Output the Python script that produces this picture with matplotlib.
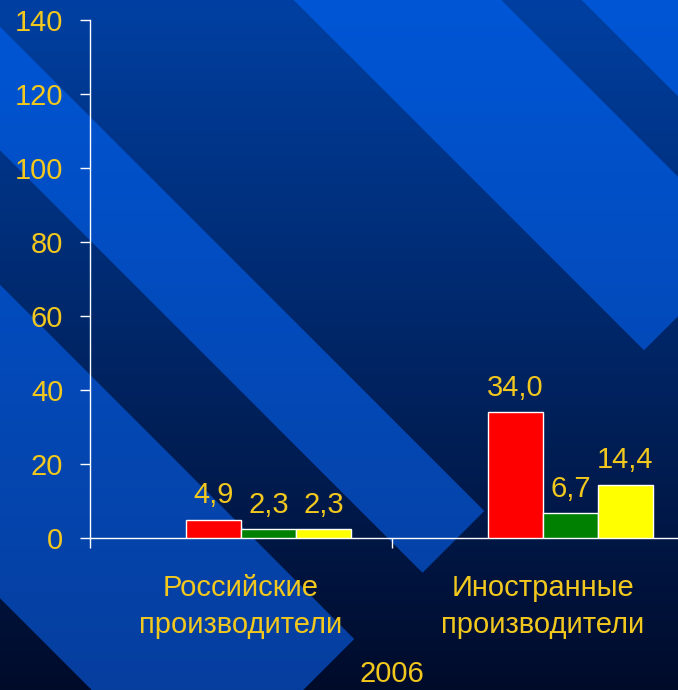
import numpy as np
import matplotlib
matplotlib.use("Agg")
import matplotlib.pyplot as plt
from matplotlib.ticker import FixedLocator, FixedFormatter, NullFormatter

plt.rcParams['font.family'] = ['Liberation Sans', 'DejaVu Sans']

# ---------------- data ----------------
categories = ['Российские\nпроизводители', 'Иностранные\nпроизводители']
series_red = [4.9, 34.0]
series_green = [2.3, 6.7]
series_yellow = [2.3, 14.4]
y_ticks = [0, 20, 40, 60, 80, 100, 120, 140]
x_title = '2006'

# ---------------- style ----------------
W, H = 678, 690
GOLD = '#F2C81E'
colors = ['#FF0000', '#008000', '#FFFF00']
FS = 21

fig = plt.figure(figsize=(W / 100, H / 100), dpi=100)

# ---------------- background (gradient with diagonal stripes) ----------------
ss = 2
yy, xx = np.mgrid[0:H * ss, 0:W * ss].astype(float)
yy = (yy + 0.5) / ss
xx = (xx + 0.5) / ss
s1 = (xx >= 294 + yy) & (xx <= 501 + yy) & (xx + yy <= 994)
s2 = xx >= 582 + yy
s3 = (xx >= yy - 150) & (xx <= yy - 27) & (xx + yy <= 995)
s4 = (xx >= yy - 598) & (xx <= yy - 285) & (xx + yy <= 993)
m = (s1 | s2 | s3 | s4).astype(float)
m = m.reshape(H, ss, W, ss).mean(axis=(1, 3))[..., None]
t = (np.arange(H) / (H - 1))[:, None, None]
base_top = np.array([0x00, 0x40, 0xA2]) / 255
base_bot = np.array([0x00, 0x0B, 0x2A]) / 255
str_top = np.array([0x00, 0x56, 0xD6]) / 255
str_bot = np.array([0x06, 0x3E, 0x9E]) / 255
base = base_top + (base_bot - base_top) * t
stripe = str_top + (str_bot - str_top) * t
img = base * (1 - m) + stripe * m

bg = fig.add_axes([0, 0, 1, 1], zorder=0)
bg.imshow(img, extent=(0, 1, 0, 1), aspect='auto', interpolation='bilinear')
bg.axis('off')

# ---------------- chart ----------------
ax = fig.add_axes([90 / W, (H - 538) / H, 604 / W, 518 / H], zorder=1)
ax.patch.set_visible(False)
ax.set_xlim(-0.5, 1.5)
ax.set_ylim(0, 140)

n_slots = 4          # four series slots in the source chart; first slot is empty
w = 1 / (n_slots + 1.5)
x = np.arange(len(categories))
for i, (vals, c) in enumerate(zip([series_red, series_green, series_yellow], colors)):
    xpos = x + (i + 1 - (n_slots - 1) / 2) * w
    ax.bar(xpos, vals, width=w, color=c, edgecolor='white', linewidth=1.0, zorder=3)
    for xp, v in zip(xpos, vals):
        ax.annotate(f"{v:.1f}".replace('.', ','), (xp, v), xytext=(0, 12),
                    textcoords='offset points', ha='center', va='baseline',
                    color=GOLD, fontsize=FS, zorder=4)

for s in ['top', 'right']:
    ax.spines[s].set_visible(False)
for s in ['left', 'bottom']:
    ax.spines[s].set_color('white')
    ax.spines[s].set_linewidth(1.0)

ax.set_yticks(y_ticks)
ax.set_yticklabels([str(v) for v in y_ticks])
ax.tick_params(axis='y', colors='white', labelcolor=GOLD, length=7.2, width=1.0,
               pad=12, labelsize=FS, direction='out')

ax.xaxis.set_major_locator(FixedLocator([-0.5, 0.5, 1.5]))
ax.xaxis.set_major_formatter(NullFormatter())
ax.xaxis.set_minor_locator(FixedLocator(list(x)))
ax.xaxis.set_minor_formatter(FixedFormatter(categories))
ax.tick_params(axis='x', which='major', colors='white', length=7.2, width=1.0, direction='out')
ax.tick_params(axis='x', which='minor', length=0, pad=26, labelsize=FS, labelcolor=GOLD)
for lab in ax.xaxis.get_minorticklabels():
    lab.set_linespacing(1.4)

ax.text(0.5, (538 - 682) / 518, x_title, transform=ax.transAxes, ha='center',
        va='baseline', color=GOLD, fontsize=FS, clip_on=False)

fig.savefig('out.png', dpi=100)
